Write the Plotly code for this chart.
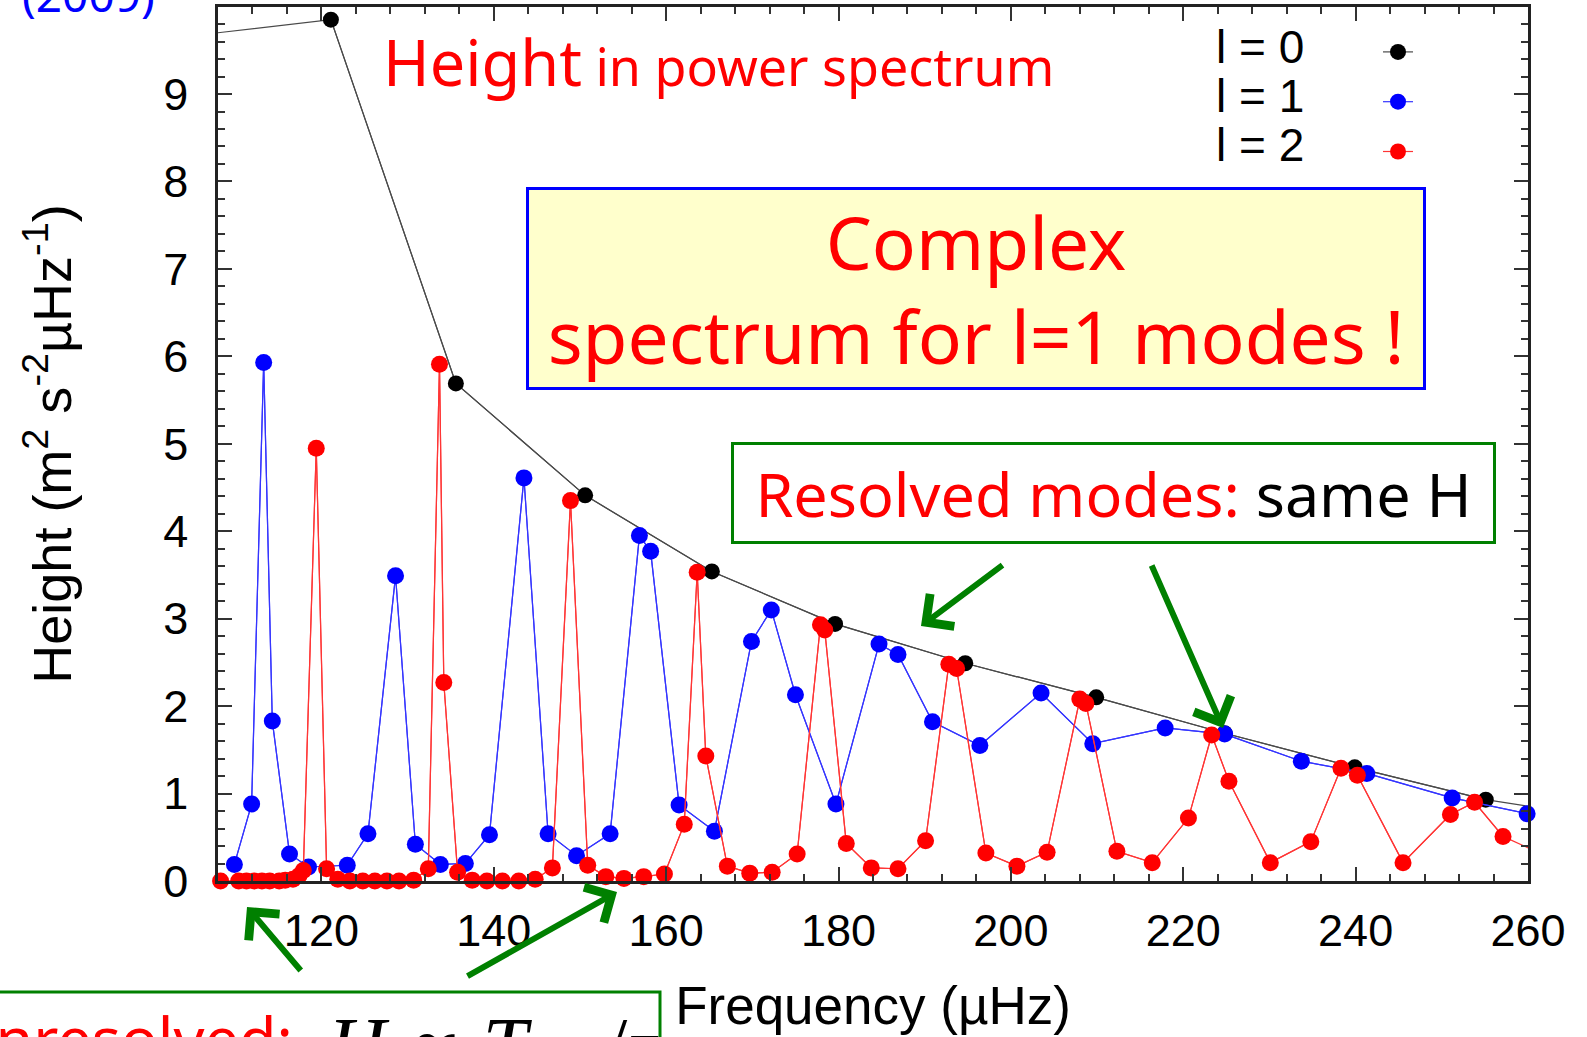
import plotly.graph_objects as go

# ---------------- data ----------------
l0_freq = [106.2, 121.1, 135.6, 150.6, 165.3, 179.6, 194.7, 209.9, 224.8, 239.9, 255.1, 270.1]
l0_height = [9.68, 9.85, 5.69, 4.41, 3.54, 2.94, 2.49, 2.10, 1.69, 1.30, 0.93, 0.70]

l1_freq = [109.9, 111.9, 113.3, 114.3, 116.3, 118.5, 123.0, 125.4, 128.6, 130.9,
           133.8, 136.7, 139.5, 143.5, 146.3, 149.6, 153.5, 156.9, 158.2, 161.5,
           165.6, 169.9, 172.2, 175.0, 179.7, 184.7, 186.9, 190.9, 196.4, 203.5,
           209.5, 217.9, 224.8, 233.7, 241.3, 251.2, 259.9]
l1_height = [0.19, 0.88, 5.93, 1.83, 0.31, 0.16, 0.18, 0.54, 3.49, 0.42,
             0.19, 0.20, 0.53, 4.61, 0.54, 0.29, 0.54, 3.95, 3.77, 0.87,
             0.57, 2.74, 3.10, 2.13, 0.88, 2.71, 2.59, 1.82, 1.55, 2.15,
             1.57, 1.75, 1.68, 1.37, 1.23, 0.95, 0.77]

l2_freq = [108.3, 110.4, 111.3, 112.2, 113.1, 114.0, 115.1, 115.8, 116.7, 117.4,
           117.9, 119.4, 120.6, 121.9, 123.3, 124.8, 126.2, 127.6, 129.0, 130.7,
           132.4, 133.7, 134.2, 135.8, 137.5, 139.2, 141.0, 142.9, 144.8, 146.8,
           148.9, 150.9, 153.0, 155.1, 157.4, 159.8, 162.1, 163.6, 164.6, 167.1,
           169.7, 172.3, 175.2, 177.9, 178.4, 180.9, 183.8, 186.9, 190.1, 192.8,
           193.7, 197.1, 200.7, 204.2, 208.0, 208.7, 212.3, 216.4, 220.6, 223.3,
           225.3, 230.1, 234.8, 238.3, 240.2, 245.5, 251.0, 253.8, 257.1, 262.0]
l2_height = [0.0, 0.0, 0.0, 0.0, 0.0, 0.0, 0.0, 0.01, 0.02, 0.06,
             0.12, 4.95, 0.14, 0.02, 0.0, 0.0, 0.0, 0.0, 0.0, 0.01,
             0.14, 5.91, 2.27, 0.10, 0.01, 0.0, 0.0, 0.0, 0.02, 0.15,
             4.35, 0.18, 0.05, 0.03, 0.05, 0.08, 0.65, 3.53, 1.43, 0.17,
             0.09, 0.10, 0.31, 2.93, 2.87, 0.43, 0.15, 0.14, 0.46, 2.48,
             2.43, 0.32, 0.17, 0.33, 2.08, 2.03, 0.34, 0.21, 0.72, 1.67,
             1.14, 0.21, 0.45, 1.29, 1.21, 0.21, 0.76, 0.90, 0.51, 0.29]

series_labels = ["l = 0", "l = 1", "l = 2"]
x_tick_values = [120, 140, 160, 180, 200, 220, 240, 260]
y_tick_values = [0, 1, 2, 3, 4, 5, 6, 7, 8, 9]

X_RANGE = [108, 260]
Y_RANGE = [0, 9.995]

# ---------------- figure ----------------
W, H = 1587, 1037
ML, MR, MT, MB = 218, 59, 7, 156
PW, PH = W - ML - MR, H - MT - MB


def px(xpix):
    return (xpix - ML) / PW


def py(ypix):
    return (H - MB - ypix) / PH


fig = go.Figure()

styles = [
    (l0_freq, l0_height, "#000000", "#4a4a4a", 16),
    (l1_freq, l1_height, "#0000ff", "#3535ff", 17),
    (l2_freq, l2_height, "#ff0000", "#ff3535", 17),
]

for (f, h, mcol, lcol, msize), lab in zip(styles, series_labels):
    # full polyline, clipped to the axes (segments leaving the frame)
    fig.add_trace(go.Scatter(x=f, y=h, mode="lines", cliponaxis=True,
                             line=dict(color=lcol, width=1.2),
                             showlegend=False, hoverinfo="skip"))
    xin = [a for a in f if X_RANGE[0] <= a <= X_RANGE[1]]
    yin = [b for a, b in zip(f, h) if X_RANGE[0] <= a <= X_RANGE[1]]
    fig.add_trace(go.Scatter(x=xin, y=yin, mode="lines+markers", cliponaxis=False,
                             name=" ", legendgroup=lab,
                             line=dict(color=lcol, width=1.2),
                             marker=dict(color=mcol, size=msize)))

axis_common = dict(
    showline=True, linecolor="#222222", linewidth=2.5, mirror="allticks",
    ticks="inside", ticklen=14, tickwidth=2, tickcolor="#333333",
    showgrid=False, zeroline=False,
    tickfont=dict(family="Liberation Sans", size=45, color="black"),
)

fig.update_xaxes(range=X_RANGE, tickvals=x_tick_values, ticklabelstandoff=8,
                 minor=dict(dtick=4, tick0=0, ticks="inside", ticklen=7, tickwidth=2,
                            tickcolor="#333333", showgrid=False),
                 title=dict(text="Frequency (µHz)", standoff=33,
                            font=dict(family="Liberation Sans", size=53, color="black")),
                 **axis_common)
fig.update_yaxes(range=Y_RANGE, tickvals=y_tick_values, ticklabelstandoff=18,
                 minor=dict(dtick=0.2, tick0=0, ticks="inside", ticklen=7, tickwidth=2,
                            tickcolor="#333333", showgrid=False),
                 title=dict(text="Height (m<sup>2</sup> s<sup>-2</sup>µHz<sup>-1</sup>)", standoff=75,
                            font=dict(family="Liberation Sans", size=54, color="black")),
                 **axis_common)

GREEN = "#008000"
COMIC = "Noto Sans"

fig.update_layout(
    width=W, height=H,
    margin=dict(l=ML, r=MR, t=MT, b=MB, pad=0, autoexpand=False),
    paper_bgcolor="white", plot_bgcolor="white",
    font=dict(family="Liberation Sans", size=44, color="black"),
    showlegend=True,
    legend=dict(x=px(1378), y=py(22), xanchor="left", yanchor="top",
                bgcolor="rgba(0,0,0,0)", borderwidth=0,
                font=dict(family="Liberation Sans", size=36),
                tracegroupgap=0, itemclick=False, itemdoubleclick=False),
    # frame of the "Unresolved" note, cut by the picture edges
    shapes=[dict(type="rect", xref="paper", yref="paper",
                 x0=px(-80), x1=px(660), y0=py(1080), y1=py(992),
                 line=dict(color=GREEN, width=3), fillcolor="white", layer="above")],
)

annos = []

# legend labels (gnuplot style: text left of the sample)
for lab, yc in zip(series_labels, [46.7, 96, 145]):
    annos.append(dict(text=lab, x=px(1306), y=py(yc), xref="paper", yref="paper",
                      xanchor="right", yanchor="middle", showarrow=False,
                      font=dict(family="Liberation Sans", size=46, color="black")))

# cut-off citation at the top-left
annos.append(dict(text="(2009)", x=px(88), y=py(27), xref="paper", yref="paper",
                  xanchor="center", yanchor="bottom", showarrow=False,
                  font=dict(family=COMIC, size=46, color="#0000ff")))

# title-like text
annos.append(dict(text='<span style="font-size:63px">Height</span> in power spectrum',
                  x=px(381), y=py(106), xref="paper", yref="paper",
                  xanchor="left", yanchor="bottom", showarrow=False,
                  font=dict(family=COMIC, size=52, color="#ff0000")))

# yellow box
annos.append(dict(text="Complex<br>spectrum for l=1 modes !",
                  x=px(976), y=py(288.5), xref="paper", yref="paper",
                  xanchor="center", yanchor="middle", showarrow=False,
                  width=886, height=189, align="center", valign="middle",
                  bgcolor="#ffffcc", bordercolor="#0000ff", borderwidth=3, borderpad=4,
                  font=dict(family=COMIC, size=73, color="#ff0000")))

# resolved box
annos.append(dict(text='Resolved modes: <span style="color:black">same H</span>',
                  x=px(1113.5), y=py(493), xref="paper", yref="paper",
                  xanchor="center", yanchor="middle", showarrow=False,
                  width=751, height=88, align="center", valign="middle",
                  bgcolor="white", bordercolor=GREEN, borderwidth=3, borderpad=4,
                  font=dict(family=COMIC, size=61, color="#ff0000")))

# unresolved note (text cut by the picture edges)
annos.append(dict(text="Unresolved:", x=px(294), y=py(995), xref="paper", yref="paper",
                  xanchor="right", yanchor="top", showarrow=False, borderpad=0,
                  font=dict(family=COMIC, size=61, color="#ff0000")))
annos.append(dict(text="<i>H</i> ∝ <i>T</i><sub>obs</sub>/<i>τ</i>",
                  x=px(326), y=py(1001), xref="paper", yref="paper",
                  xanchor="left", yanchor="top", showarrow=False, borderpad=0,
                  font=dict(family="Liberation Serif", size=80, color="black")))

# green arrows (head, tail in pixels)
arrows = [((921, 626), (1004, 564)), ((1223, 728), (1151, 564)),
          ((247, 907), (302, 972)), ((617, 892), (466, 977))]
for (hx, hy), (tx, ty) in arrows:
    annos.append(dict(text="", x=px(hx), y=py(hy), xref="paper", yref="paper",
                      ax=tx - hx, ay=ty - hy, axref="pixel", ayref="pixel",
                      showarrow=True, arrowhead=4, arrowsize=1.3, arrowwidth=6,
                      arrowcolor=GREEN, standoff=0))

fig.update_layout(annotations=annos)

fig.write_html("out.html")
